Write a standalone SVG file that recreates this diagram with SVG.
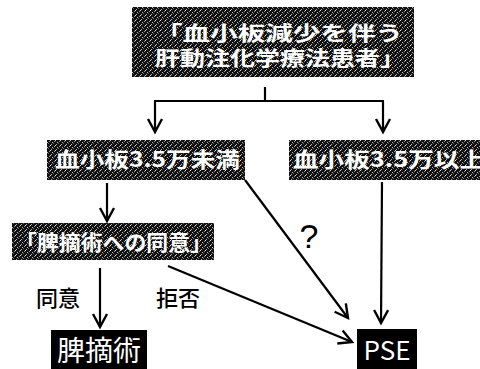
<svg xmlns="http://www.w3.org/2000/svg" width="480" height="369" viewBox="0 0 480 369">
<defs>
<style>
.box{fill:url(#ht);}
.solid{fill:#000;}
.bt{fill:#fff;font-family:"Noto Sans CJK JP","Noto Sans CJK SC",sans-serif;font-weight:bold;}
.lbl{fill:#000;font-family:"Noto Sans CJK JP","Noto Sans CJK SC",sans-serif;font-size:22px;font-weight:500;}
.wt{fill:#fff;font-family:"Noto Sans CJK JP","Liberation Sans",sans-serif;}
.ln{stroke:#000;stroke-width:2.2;fill:none;}
.arr{stroke:#000;stroke-width:2.2;fill:none;marker-end:url(#ah);}
</style>
<pattern id="ht" width="5" height="5" patternUnits="userSpaceOnUse">
<rect width="5" height="5" fill="#111"/>
<rect x="0" y="0" width="1" height="1" fill="#ddd"/>
<rect x="2" y="2" width="1" height="1" fill="#bbb"/>
<rect x="4" y="1" width="1" height="1" fill="#999"/>
<rect x="1" y="4" width="1" height="1" fill="#aaa"/>
<rect x="3" y="3" width="1" height="1" fill="#666"/>
</pattern>
<marker id="ah" markerUnits="userSpaceOnUse" markerWidth="18" markerHeight="18" refX="14" refY="8" orient="auto" viewBox="0 0 18 16">
<path d="M1,1 L14,8 L1,15" fill="none" stroke="#000" stroke-width="2.4"/>
</marker>
</defs>

<g id="n-top">
<rect class="box" x="132" y="7" width="282" height="70"/>
<text class="bt" font-size="20"><tspan x="155" y="41" textLength="248" lengthAdjust="spacingAndGlyphs">「血小板減少を伴う</tspan><tspan x="155" y="66" textLength="250" lengthAdjust="spacingAndGlyphs">肝動注化学療法患者」</tspan></text>
</g>

<g id="n-lt35">
<rect class="box" x="47" y="140" width="198" height="40"/>
<text class="bt" x="55" y="167" font-size="21" textLength="185" lengthAdjust="spacingAndGlyphs">血小板3.5万未満</text>
</g>

<g id="n-ge35">
<rect class="box" x="289" y="140" width="191" height="40"/>
<text class="bt" x="293" y="167" font-size="21" textLength="192" lengthAdjust="spacingAndGlyphs">血小板3.5万以上</text>
</g>

<g id="n-consent">
<rect class="box" x="12" y="223" width="202" height="37"/>
<text class="bt" x="15" y="250" font-size="21" textLength="197" lengthAdjust="spacingAndGlyphs">「脾摘術への同意」</text>
</g>

<g id="n-splenectomy">
<rect class="solid" x="51" y="330" width="96" height="39"/>
<text class="wt" x="99" y="361" font-size="28" text-anchor="middle">脾摘術</text>
</g>

<g id="n-pse">
<rect class="solid" x="357" y="329" width="60" height="40"/>
<text class="wt" x="387" y="360" font-size="26" text-anchor="middle" font-family="Liberation Sans, sans-serif">PSE</text>
</g>

<g id="connectors">
<line class="ln" x1="265" y1="87" x2="265" y2="101"/>
<line class="ln" x1="154" y1="101" x2="384" y2="101"/>
<line class="arr" x1="155" y1="101" x2="155" y2="132"/>
<line class="arr" x1="383" y1="101" x2="383" y2="132"/>
<line class="arr" x1="107" y1="183" x2="107" y2="221"/>
<line class="arr" x1="245" y1="180" x2="348" y2="318"/>
<line class="arr" x1="382" y1="182" x2="381" y2="323"/>
<line class="arr" x1="100" y1="268" x2="100" y2="327"/>
<line class="arr" x1="168" y1="266" x2="352" y2="342"/>
</g>

<g id="labels">
<text class="lbl" x="36" y="306">同意</text>
<text class="lbl" x="156" y="306">拒否</text>
<text x="309" y="248" font-size="34" text-anchor="middle" font-family="Liberation Sans, sans-serif" fill="#000">?</text>
</g>
</svg>
